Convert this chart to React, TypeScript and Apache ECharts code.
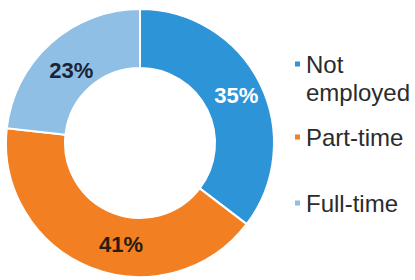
import React, { useEffect, useRef } from "react";
import * as echarts from "echarts";

const categories = ["Not employed", "Part-time", "Full-time"];
const values = [35, 41, 23];
const labels = ["35%", "41%", "23%"];

export default function App() {
  const ref = useRef<HTMLDivElement>(null);
  useEffect(() => {
    if (!ref.current) return;
    const colors = ["#2e94d8", "#f27f22", "#8fbfe4"];
    const labelColors = ["#ffffff", "#2a1c10", "#1a2436"];
    const labelOffsets = [
      [0, 0],
      [21, 2],
      [3, 8],
    ];
    const chart = echarts.init(ref.current, null, { renderer: "svg" });
    const textStyle = {
      fontFamily: "Liberation Sans, Arial, sans-serif",
      fontSize: 24,
      color: "#2b2b2b",
      lineHeight: 28,
    };
    const legendBase = {
      orient: "vertical",
      left: 288,
      icon: "rect",
      itemWidth: 7,
      itemHeight: 7,
      selectedMode: false,
      textStyle,
    };
    chart.setOption({
      animation: false,
      backgroundColor: "#ffffff",
      legend: [
        {
          ...legendBase,
          top: 17,
          data: [categories[0]],
          formatter: (n: string) => " \n" + n.replace(" ", "\n"),
        },
        { ...legendBase, top: 118, data: [categories[1]] },
        { ...legendBase, top: 184, data: [categories[2]] },
      ],
      series: [
        {
          type: "pie",
          center: [140, 143],
          radius: [75, 134],
          startAngle: 90,
          clockwise: true,
          itemStyle: { borderColor: "#ffffff", borderWidth: 2 },
          label: {
            show: true,
            position: "inside",
            fontFamily: "Liberation Sans, Arial, sans-serif",
            fontWeight: "bold",
            fontSize: 22,
          },
          labelLine: { show: false },
          data: categories.map((c, i) => ({
            name: c,
            value: values[i],
            itemStyle: { color: colors[i] },
            label: {
              formatter: labels[i],
              color: labelColors[i],
              offset: labelOffsets[i],
            },
          })),
        },
      ],
    });
    return () => chart.dispose();
  }, []);
  return (
    <div
      ref={ref}
      style={{ position: "fixed", left: 0, top: 0, width: 415, height: 280 }}
    />
  );
}
